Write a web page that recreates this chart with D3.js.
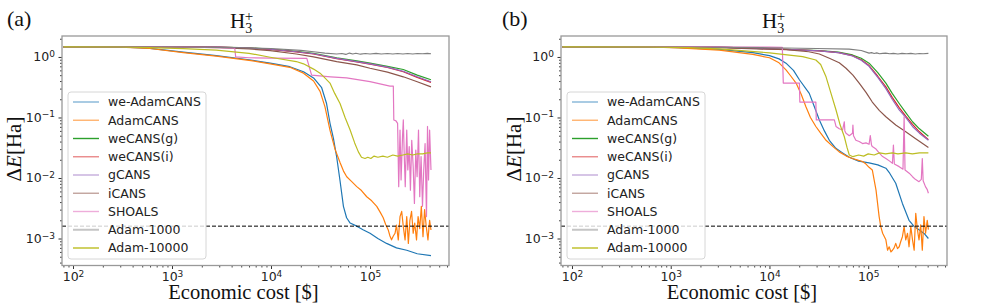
<!DOCTYPE html>
<html>
<head>
<meta charset="utf-8">
<style>
  body { margin: 0; background: #fff; }
  svg { display: block; }
  .tick text { font-family: 'DejaVu Sans', sans-serif; font-size: 12.5px; fill: #222; }
  .legend text { font-family: 'DejaVu Sans', sans-serif; font-size: 12.5px; fill: #222; }
  .serif { font-family: 'Liberation Serif', 'DejaVu Serif', serif; fill: #111; }
</style>
</head>
<body>
<svg id="chart" width="997" height="304"></svg>
<script src="https://cdn.jsdelivr.net/npm/d3@7"></script>
<script>

// series names & colours (matplotlib tab10)
var seriesNames = ["we-AdamCANS", "AdamCANS", "weCANS(g)", "weCANS(i)", "gCANS", "iCANS", "SHOALS", "Adam-1000", "Adam-10000"];
var seriesColors = ["#1f77b4", "#ff7f0e", "#2ca02c", "#d62728", "#9467bd", "#8c564b", "#e377c2", "#7f7f7f", "#bcbd22"];

var xMajorTicks = [1e2, 1e3, 1e4, 1e5];
var yMajorTicks = [1e-3, 1e-2, 1e-1, 1e0];
var chemAccuracy = 1.6e-3;

// ---- panel (a): [cost $, dE Ha]
var aWeAdamCANS = [[80,1.47],[300,1.46],[600,1.39],[1300,1.2],[2800,1.05],[6000,0.9],[9800,0.79],[15500,0.69],[21300,0.57],[26900,0.45],[32500,0.31],[36400,0.17],[39400,0.081],[42700,0.045],[46100,0.022],[49800,0.009],[53900,0.0034],[58000,0.0022],[63000,0.0018],[73500,0.0016],[85000,0.0014],[100000,0.00122],[120000,0.001],[147000,0.00083],[185000,0.0007],[235000,0.00064],[300000,0.00056],[413000,0.00052]];
var aAdamCANS = [[80,1.47],[300,1.45],[600,1.38],[1300,1.18],[2800,1.03],[6000,0.88],[9800,0.77],[15500,0.675],[21300,0.54],[26900,0.4],[31300,0.27],[35100,0.15],[39400,0.062],[44300,0.03],[49800,0.018],[54000,0.013],[58200,0.0105],[65000,0.0088],[73500,0.0072],[82000,0.0062],[92700,0.0049],[104000,0.0042],[117000,0.0034],[127000,0.0027],[136000,0.0022],[144000,0.0017],[153000,0.00138],[159000,0.0011],[165000,0.00095],[172000,0.0011],[179000,0.00122],[185000,0.00167],[193000,0.00095],[201000,0.0023],[209000,0.0028],[217000,0.00157],[226000,0.00095],[235000,0.0023],[244000,0.00083],[253000,0.002],[263000,0.0028],[273000,0.00122],[283000,0.0018],[295000,0.00095],[306000,0.0023],[318000,0.00146],[330000,0.0034],[343000,0.00107],[356000,0.003],[370000,0.00157],[385000,0.00095],[400000,0.002],[413000,0.00138]];
var aWeCANSg = [[80,1.47],[1000,1.46],[3000,1.45],[6000,1.41],[9800,1.35],[18000,1.24],[26900,1.15],[46100,0.97],[73500,0.86],[100000,0.79],[150000,0.7],[217000,0.62],[300000,0.5],[413000,0.42]];
var aWeCANSi = [[80,1.47],[1000,1.46],[3000,1.45],[6000,1.4],[9800,1.33],[18000,1.21],[26900,1.12],[46100,0.94],[73500,0.83],[100000,0.76],[150000,0.67],[217000,0.57],[300000,0.46],[413000,0.38]];
var aGCANS = [[80,1.47],[1000,1.46],[3000,1.45],[6000,1.4],[9800,1.34],[18000,1.22],[26900,1.13],[46100,0.95],[73500,0.84],[100000,0.77],[150000,0.68],[217000,0.58],[300000,0.47],[413000,0.39]];
var aICANS = [[80,1.47],[1000,1.46],[3000,1.43],[6000,1.36],[9800,1.27],[18000,1.12],[26900,1.0],[46100,0.84],[73500,0.74],[100000,0.65],[150000,0.56],[217000,0.47],[300000,0.39],[413000,0.32]];
var aSHOALS = [[80,1.47],[1000,1.46],[3000,1.42],[4300,1.4],[4400,1.0],[6000,0.97],[10000,0.96],[23000,0.95],[25700,0.5],[40000,0.47],[58000,0.45],[100000,0.39],[159000,0.33],[172000,0.33],[174000,0.091],[183000,0.088],[190000,0.08],[195000,0.0072],[201000,0.062],[206000,0.0093],[213000,0.048],[217000,0.091],[222000,0.0226],[227000,0.0072],[235000,0.062],[241000,0.0136],[249000,0.033],[256000,0.0063],[264000,0.042],[273000,0.0154],[281000,0.0038],[290000,0.029],[299000,0.0105],[309000,0.062],[318000,0.0049],[328000,0.0226],[339000,0.0034],[349000,0.0136],[360000,0.037],[372000,0.0023],[381000,0.071],[390000,0.0093],[400000,0.062],[413000,0.0136]];
var aAdam1000 = [[80,1.47],[1000,1.46],[5000,1.42],[10000,1.38],[20000,1.28],[27000,1.22],[35000,1.16],[46000,1.12],[52000,1.14],[57000,1.1],[62000,1.16],[67000,1.12],[72000,1.15],[80000,1.11],[90000,1.14],[100000,1.12],[115000,1.15],[130000,1.12],[150000,1.14],[170000,1.12],[190000,1.14],[215000,1.12],[240000,1.14],[270000,1.12],[300000,1.14],[340000,1.13],[380000,1.15],[413000,1.13]];
var aAdam10000 = [[80,1.47],[300,1.46],[600,1.43],[1300,1.37],[2800,1.3],[6000,1.15],[9800,0.99],[18000,0.84],[21300,0.77],[26900,0.63],[31300,0.54],[35000,0.45],[39400,0.37],[44000,0.25],[49800,0.17],[56000,0.1],[63000,0.062],[70000,0.038],[76300,0.027],[82000,0.022],[89000,0.021],[95000,0.022],[102000,0.021],[110000,0.023],[120000,0.022],[135000,0.023],[150000,0.022],[170000,0.024],[190000,0.023],[215000,0.024],[240000,0.025],[270000,0.024],[300000,0.025],[340000,0.025],[380000,0.026],[413000,0.026]];

// ---- panel (b)
var bWeAdamCANS = [[80,1.47],[600,1.46],[1200,1.42],[3100,1.33],[6800,1.18],[10000,1.05],[12500,0.93],[14700,0.79],[17500,0.6],[20100,0.42],[25300,0.25],[28500,0.15],[32000,0.091],[36000,0.06],[40400,0.042],[47000,0.031],[55000,0.026],[64300,0.022],[80000,0.019],[102000,0.0178],[125000,0.0165],[151000,0.0145],[165000,0.012],[190000,0.0082],[222000,0.0038],[259000,0.002],[290000,0.0016],[327000,0.0014],[370000,0.0012],[407000,0.001]];
var bAdamCANS = [[80,1.47],[600,1.46],[1200,1.41],[3100,1.3],[6800,1.1],[10000,0.97],[12500,0.8],[14700,0.61],[16500,0.48],[18600,0.37],[21000,0.24],[23400,0.15],[26000,0.1],[29500,0.071],[33000,0.055],[37400,0.042],[44000,0.033],[50900,0.027],[60000,0.023],[69300,0.021],[80000,0.0195],[87600,0.0187],[95000,0.017],[102000,0.015],[110000,0.0136],[120000,0.0063],[129000,0.0023],[134000,0.00157],[140000,0.00122],[151000,0.00095],[157000,0.00064],[163000,0.00073],[170000,0.0006],[176000,0.00064],[183000,0.0007],[190000,0.00083],[198000,0.00068],[206000,0.00073],[214000,0.0009],[222000,0.00107],[231000,0.00157],[240000,0.00095],[250000,0.00122],[259000,0.00073],[270000,0.00157],[281000,0.00095],[292000,0.00064],[303000,0.0026],[315000,0.0014],[327000,0.00095],[340000,0.00168],[353000,0.00064],[367000,0.0023],[381000,0.00122],[396000,0.002],[407000,0.0014]];
var bWeCANSg = [[80,1.47],[1000,1.46],[3100,1.45],[14700,1.34],[32000,1.27],[50000,1.2],[69300,1.08],[85000,0.95],[102000,0.79],[125000,0.55],[151000,0.37],[175000,0.25],[206000,0.17],[240000,0.12],[281000,0.085],[330000,0.065],[407000,0.049]];
var bWeCANSi = [[80,1.47],[1000,1.46],[3100,1.45],[14700,1.33],[32000,1.26],[50000,1.18],[69300,1.05],[85000,0.9],[102000,0.72],[125000,0.48],[151000,0.32],[175000,0.215],[206000,0.145],[240000,0.105],[281000,0.077],[330000,0.058],[407000,0.043]];
var bGCANS = [[80,1.47],[1000,1.46],[3100,1.45],[14700,1.33],[32000,1.26],[50000,1.18],[69300,1.04],[85000,0.88],[102000,0.7],[125000,0.46],[151000,0.3],[175000,0.2],[206000,0.133],[240000,0.1],[281000,0.071],[330000,0.055],[407000,0.042]];
var bICANS = [[80,1.47],[1000,1.46],[3100,1.42],[14700,1.32],[25000,1.22],[32000,1.12],[40400,0.95],[50900,0.8],[59600,0.65],[70000,0.5],[81000,0.37],[95000,0.26],[110000,0.18],[130000,0.13],[151000,0.103],[190000,0.075],[240000,0.058],[300000,0.045],[407000,0.032]];
var bSHOALS = [[80,1.47],[1000,1.47],[5000,1.46],[10000,1.45],[13500,1.44],[13800,0.37],[20100,0.37],[20300,0.18],[29500,0.18],[29800,0.091],[45400,0.091],[47200,0.071],[50900,0.065],[55000,0.062],[57300,0.085],[58000,0.06],[59600,0.055],[64300,0.05],[69300,0.055],[70000,0.075],[71000,0.05],[75000,0.042],[81000,0.04],[87600,0.037],[95000,0.038],[102000,0.036],[105000,0.05],[108000,0.035],[110000,0.033],[120000,0.03],[129000,0.026],[140000,0.0226],[151000,0.021],[165000,0.019],[176000,0.0175],[180000,0.035],[184000,0.017],[206000,0.0154],[225000,0.014],[231000,0.103],[236000,0.0136],[260000,0.012],[281000,0.0105],[300000,0.0095],[327000,0.0087],[345000,0.0095],[353000,0.021],[360000,0.009],[380000,0.0072],[395000,0.0065],[407000,0.0056]];
var bAdam1000 = [[80,1.47],[1000,1.46],[10000,1.42],[30000,1.38],[64000,1.35],[85000,1.28],[102000,1.16],[108000,1.18],[115000,1.14],[122000,1.17],[130000,1.13],[140000,1.15],[150000,1.16],[165000,1.13],[180000,1.15],[200000,1.12],[220000,1.15],[245000,1.13],[270000,1.15],[300000,1.12],[330000,1.14],[360000,1.13],[407000,1.15]];
var bAdam10000 = [[80,1.47],[600,1.46],[1500,1.43],[3100,1.36],[10000,1.17],[21700,1.01],[29500,0.89],[33000,0.75],[37400,0.47],[42000,0.25],[47200,0.133],[52000,0.075],[57300,0.048],[61000,0.032],[64300,0.024],[70000,0.0225],[80000,0.024],[90000,0.023],[100000,0.025],[115000,0.024],[130000,0.026],[150000,0.025],[175000,0.026],[200000,0.025],[240000,0.026],[280000,0.025],[330000,0.026],[407000,0.026]];

var panels = [
  { tag: "(a)", left: 62, right: 449, tagX: 7, titleX: 230, ylabX: 21,
    series: [aWeAdamCANS, aAdamCANS, aWeCANSg, aWeCANSi, aGCANS, aICANS, aSHOALS, aAdam1000, aAdam10000] },
  { tag: "(b)", left: 561, right: 947, tagX: 502, titleX: 762, ylabX: 521,
    series: [bWeAdamCANS, bAdamCANS, bWeCANSg, bWeCANSi, bGCANS, bICANS, bSHOALS, bAdam1000, bAdam10000] }
];
var plotTop = 36, plotBottom = 265.5;
var legendOpacity = [0.55, 0.6, 1, 0.55, 0.55, 0.55, 0.6, 0.45, 1];

var svg = d3.select("#chart");

panels.forEach(function(p, pi) {
  var x = d3.scaleLog().domain([77.4, 6.28e5]).range([p.left, p.right]);
  var y = d3.scaleLog().domain([3.58e-4, 2.22]).range([plotBottom, plotTop]);
  var g = svg.append("g");

  var clipId = "clip" + pi;
  g.append("clipPath").attr("id", clipId).append("rect")
    .attr("x", p.left).attr("y", plotTop).attr("width", p.right - p.left).attr("height", plotBottom - plotTop);

  // minor ticks (no labels)
  var xMinor = x.ticks().filter(function(v) { return xMajorTicks.indexOf(v) < 0; });
  var yMinor = y.ticks().filter(function(v) { return yMajorTicks.indexOf(v) < 0; });

  g.append("g").attr("transform", "translate(0," + plotBottom + ")")
    .call(d3.axisBottom(x).tickValues(xMinor).tickSize(2).tickFormat(""))
    .call(function(s) { s.select(".domain").remove(); s.selectAll("text").remove(); s.selectAll("line").attr("stroke", "#444"); });
  g.append("g").attr("transform", "translate(" + p.left + ",0)")
    .call(d3.axisLeft(y).tickValues(yMinor).tickSize(2).tickFormat(""))
    .call(function(s) { s.select(".domain").remove(); s.selectAll("text").remove(); s.selectAll("line").attr("stroke", "#444"); });

  // major ticks with 10^n labels
  var xa = g.append("g").attr("transform", "translate(0," + plotBottom + ")")
    .call(d3.axisBottom(x).tickValues(xMajorTicks).tickSize(3.5).tickPadding(3.5).tickFormat(""));
  xa.select(".domain").remove();
  xa.selectAll("line").attr("stroke", "#333");
  xa.selectAll(".tick text").each(function(d) {
    var t = d3.select(this);
    t.text("10").append("tspan").attr("dy", "-0.5em").attr("font-size", "9px").text(Math.round(Math.log10(d)));
  });

  var ya = g.append("g").attr("transform", "translate(" + p.left + ",0)")
    .call(d3.axisLeft(y).tickValues(yMajorTicks).tickSize(3.5).tickPadding(3.5).tickFormat(""));
  ya.select(".domain").remove();
  ya.selectAll("line").attr("stroke", "#333");
  ya.selectAll(".tick text").each(function(d) {
    var t = d3.select(this);
    var e = Math.round(Math.log10(d));
    t.text("10").append("tspan").attr("dy", "-0.5em").attr("font-size", "9px").text(e < 0 ? "\u2212" + (-e) : e);
  });

  // data lines
  var line = d3.line().x(function(d) { return x(d[0]); }).y(function(d) { return y(d[1]); });
  var lg = g.append("g").attr("clip-path", "url(#" + clipId + ")");
  p.series.forEach(function(s, i) {
    lg.append("path").datum(s)
      .attr("d", line)
      .attr("fill", "none")
      .attr("stroke", seriesColors[i])
      .attr("stroke-width", 1.2)
      .attr("stroke-linejoin", "round");
  });

  // chemical accuracy
  g.append("line")
    .attr("x1", p.left).attr("x2", p.right)
    .attr("y1", y(chemAccuracy)).attr("y2", y(chemAccuracy))
    .attr("stroke", "#000").attr("stroke-width", 1).attr("stroke-dasharray", "4,2");

  // frame
  g.append("rect")
    .attr("x", p.left).attr("y", plotTop).attr("width", p.right - p.left).attr("height", plotBottom - plotTop)
    .attr("fill", "none").attr("stroke", "#999").attr("stroke-width", 1.3);

  // legend
  var lx = p.left + 6, ly = 92;
  var leg = g.append("g").attr("class", "legend");
  leg.append("rect")
    .attr("x", lx).attr("y", ly).attr("width", 138).attr("height", 167).attr("rx", 3)
    .attr("fill", "#fff").attr("fill-opacity", 0.8).attr("stroke", "#d6d6d6");
  seriesNames.forEach(function(name, i) {
    var yy = ly + 10 + i * 18.25;
    leg.append("line")
      .attr("x1", lx + 5).attr("x2", lx + 31).attr("y1", yy).attr("y2", yy)
      .attr("stroke", seriesColors[i]).attr("stroke-opacity", legendOpacity[i])
      .attr("stroke-width", i === 7 ? 2 : 1.4);
    leg.append("text").attr("x", lx + 40).attr("y", yy).attr("dy", "0.35em").text(name);
  });

  // panel tag, title, axis labels
  svg.append("text").attr("class", "serif").attr("x", p.tagX).attr("y", 26)
    .attr("font-size", "22px").text(p.tag);

  var title = svg.append("text").attr("class", "serif").attr("x", p.titleX).attr("y", 28);
  title.append("tspan").attr("font-size", "21px").text("H");
  title.append("tspan").attr("font-size", "14px").attr("dy", 5).text("3");
  title.append("tspan").attr("font-size", "15px").attr("dx", -7.5).attr("dy", -12).text("+");

  svg.append("text").attr("class", "serif")
    .attr("x", (p.left + p.right) / 2 - 12).attr("y", 299)
    .attr("text-anchor", "middle").attr("font-size", "20.5px")
    .text("Economic cost [$]");

  var yl = svg.append("text").attr("class", "serif")
    .attr("transform", "translate(" + p.ylabX + ",149) rotate(-90)")
    .attr("text-anchor", "middle").attr("font-size", "21px");
  yl.append("tspan").text("\u0394");
  yl.append("tspan").attr("font-style", "italic").text("E");
  yl.append("tspan").text("[Ha]");
});
</script>
</body>
</html>
